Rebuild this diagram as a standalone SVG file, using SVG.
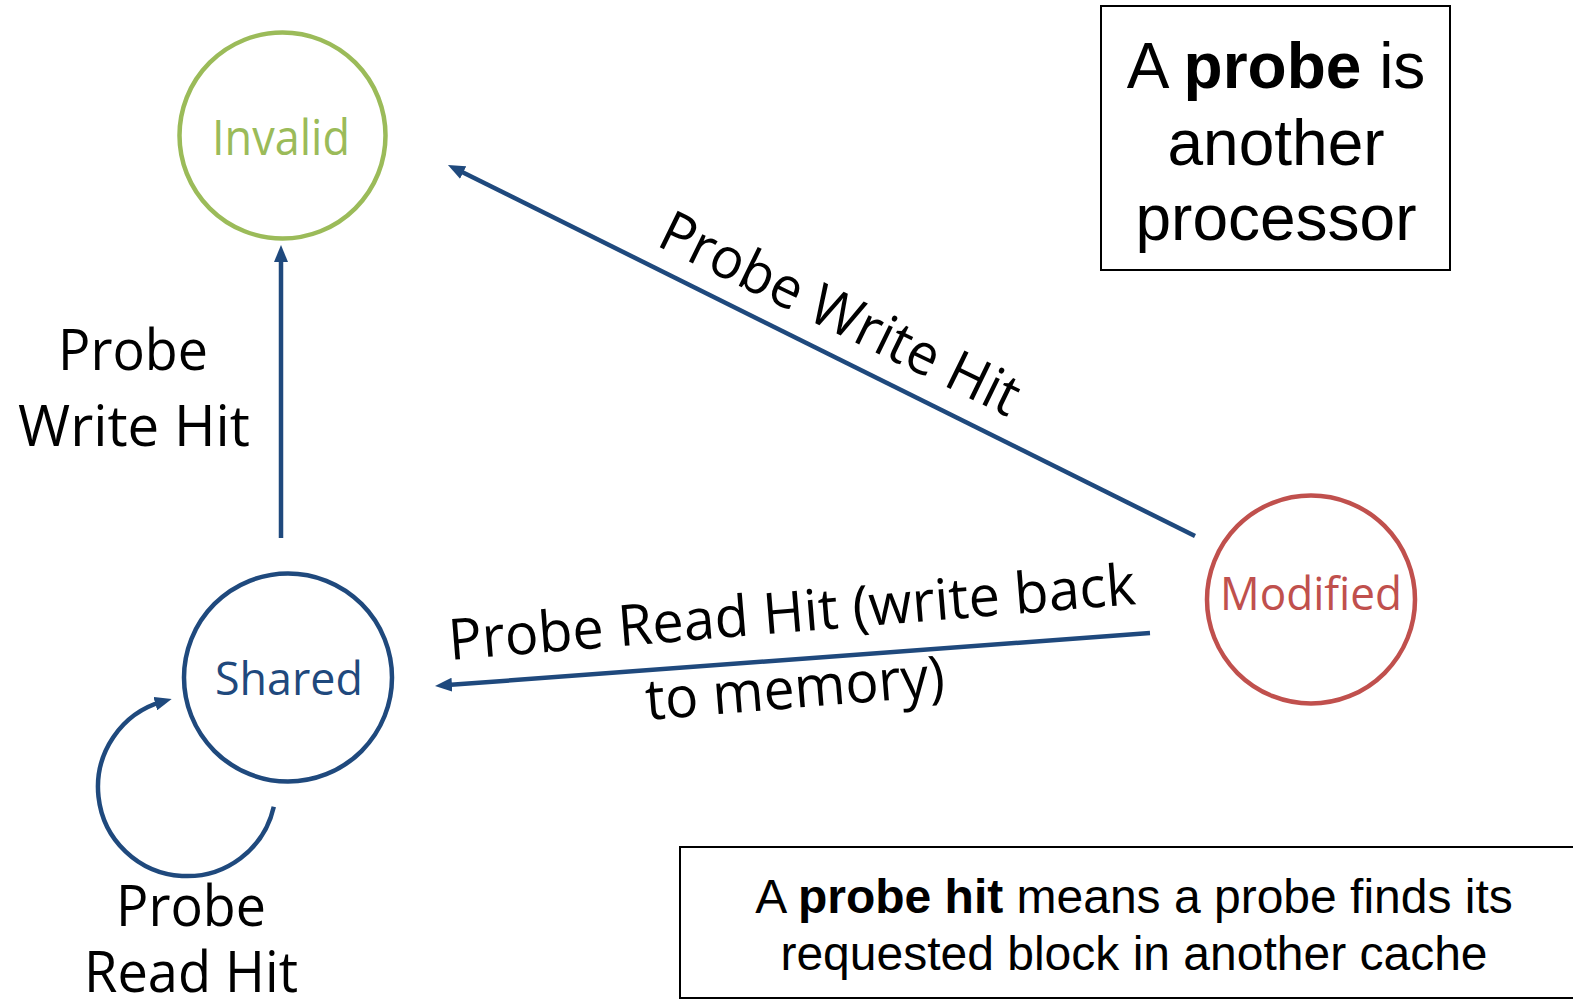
<svg xmlns="http://www.w3.org/2000/svg" width="1573" height="1003" viewBox="0 0 1573 1003">
  <style>
    .state { fill: #ffffff; stroke-width: 4.5; }
    .label { font-family: "Open Sans", "Noto Sans", sans-serif; fill: #000000; }
    .note { font-family: "Liberation Sans", Arial, sans-serif; fill: #000000; text-anchor: middle; }
    .edge { fill: none; stroke: #1F497D; stroke-width: 4.5; }
    .box { fill: #ffffff; stroke: #000000; stroke-width: 2; }
  </style>
  <defs>
    <marker id="arrow" viewBox="0 0 17 14" refX="8" refY="7" markerWidth="17" markerHeight="14" orient="auto" markerUnits="userSpaceOnUse">
      <path d="M0,0 L17,7 L0,14 Z" fill="#1F497D"/>
    </marker>
  </defs>
  <rect width="1573" height="1003" fill="#ffffff"/>

  <!-- states -->
  <g id="invalid">
    <circle class="state" cx="282.5" cy="135.5" r="103" stroke="#9BBB59"/>
    <text class="label" x="212" y="155" font-size="49" style="fill:#9BBB59" textLength="138" lengthAdjust="spacingAndGlyphs">Invalid</text>
  </g>
  <g id="shared">
    <circle class="state" cx="288" cy="677.5" r="104" stroke="#1F497D"/>
    <text class="label" x="215" y="695" font-size="46" style="fill:#1F497D" textLength="148" lengthAdjust="spacingAndGlyphs">Shared</text>
  </g>
  <g id="modified">
    <circle class="state" cx="1311" cy="599.5" r="104" stroke="#C0504D"/>
    <text class="label" x="1220" y="610" font-size="45" style="fill:#C0504D" textLength="182" lengthAdjust="spacingAndGlyphs">Modified</text>
  </g>

  <!-- transitions -->
  <g id="connectors">
    <line class="edge" x1="281" y1="538" x2="281" y2="254" marker-end="url(#arrow)"/>
    <line class="edge" x1="1195" y1="536" x2="456" y2="169" marker-end="url(#arrow)"/>
    <line class="edge" x1="1150" y1="633" x2="444" y2="685.3" marker-end="url(#arrow)"/>
    <path class="edge" d="M273.8,806.7 A89,89 0 1 1 163,701.4" marker-end="url(#arrow)"/>
  </g>

  <!-- transition labels -->
  <g id="edge-labels">
    <text class="label" x="58" y="370" font-size="57" textLength="150" lengthAdjust="spacingAndGlyphs">Probe</text>
    <text class="label" x="18" y="446" font-size="57" textLength="232" lengthAdjust="spacingAndGlyphs">Write Hit</text>
    <text class="label" transform="translate(655,245) rotate(26)" font-size="57" textLength="393" lengthAdjust="spacingAndGlyphs">Probe Write Hit</text>
    <text class="label" transform="translate(450,660) rotate(-4.66)" font-size="57" textLength="689" lengthAdjust="spacingAndGlyphs">Probe Read Hit (write back</text>
    <text class="label" transform="translate(647,720) rotate(-4.66)" font-size="57" textLength="300" lengthAdjust="spacingAndGlyphs">to memory)</text>
    <text class="label" x="116" y="926" font-size="57" textLength="150" lengthAdjust="spacingAndGlyphs">Probe</text>
    <text class="label" x="84" y="992" font-size="57" textLength="214" lengthAdjust="spacingAndGlyphs">Read Hit</text>
  </g>

  <!-- notes -->
  <g id="note-probe">
    <rect class="box" x="1101" y="6" width="349" height="264"/>
    <text class="note" x="1276" y="88" font-size="64">A <tspan font-weight="bold">probe</tspan> is</text>
    <text class="note" x="1276" y="165" font-size="64">another</text>
    <text class="note" x="1276" y="240" font-size="64">processor</text>
  </g>
  <g id="note-probe-hit">
    <rect class="box" x="680" y="847" width="920" height="151"/>
    <text class="note" x="1134" y="913" font-size="48">A <tspan font-weight="bold">probe hit</tspan> means a probe finds its</text>
    <text class="note" x="1134" y="970" font-size="48">requested block in another cache</text>
  </g>
</svg>
